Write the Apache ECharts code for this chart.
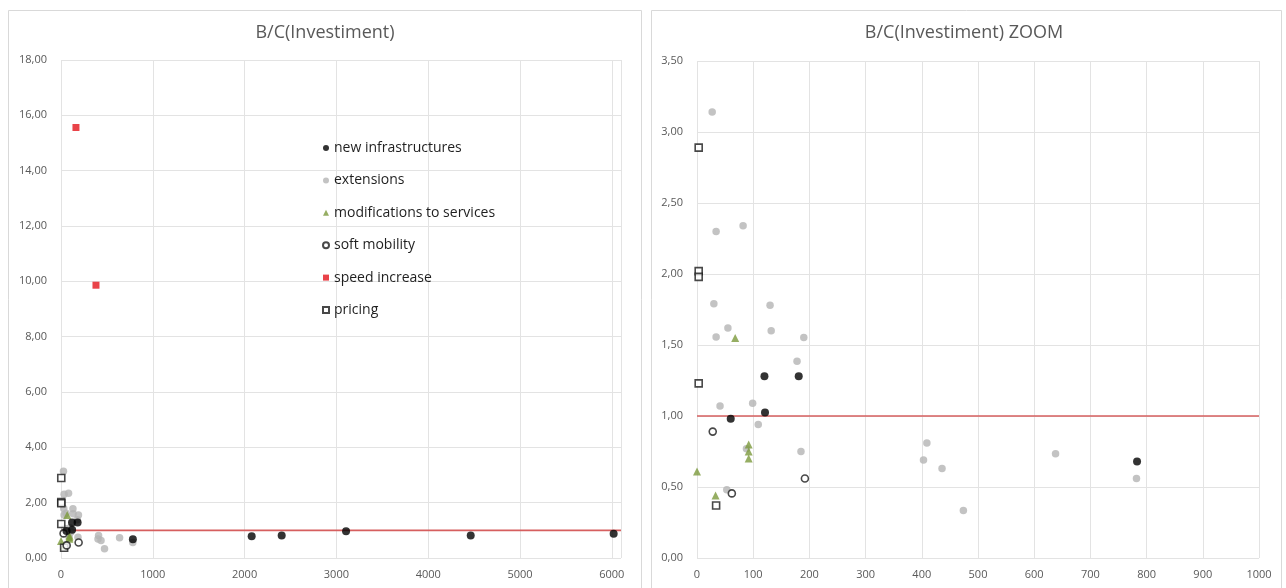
<!DOCTYPE html>
<html>
<head>
<meta charset="utf-8">
<script src="https://cdn.jsdelivr.net/npm/echarts@6/dist/echarts.min.js"></script>
<style>
  html, body { margin: 0; padding: 0; background: #ffffff; }
  #chart { width: 1286px; height: 588px; }
</style>
</head>
<body>
<div id="chart"></div>
<script>
// Investment (x) vs benefit/cost ratio (y), one list per project type
const newInfrastructures = [[60, 0.98], [120, 1.28], [121, 1.025], [181, 1.28], [783, 0.68],
  [2077, 0.79], [2404, 0.81], [3105, 0.97], [4463, 0.81], [6020, 0.88]];
const extensions = [[27, 3.14], [34, 2.30], [82, 2.34], [30, 1.79], [130, 1.78], [55, 1.62],
  [34, 1.556], [132, 1.60], [190, 1.553], [178, 1.385], [41, 1.07], [99, 1.09], [109, 0.94],
  [185, 0.75], [88, 0.77], [53, 0.48], [409, 0.81], [403, 0.69], [436, 0.63], [474, 0.335],
  [638, 0.735], [782, 0.56]];
const modificationsToServices = [[68, 1.55], [0, 0.61], [33, 0.44], [92, 0.80], [92, 0.75], [92, 0.70]];
const softMobility = [[28, 0.89], [62, 0.455], [192, 0.56]];
const speedIncrease = [[163, 15.56], [381, 9.86]];
const pricing = [[3, 2.89], [3, 2.02], [3, 1.98], [3, 1.23], [34, 0.37]];
const threshold = 1.0;

const seriesNames = ['new infrastructures', 'extensions', 'modifications to services',
  'soft mobility', 'speed increase', 'pricing'];

const titleLeft = 'B/C(Investiment)';
const titleRight = 'B/C(Investiment) ZOOM';

const leftY = { min: 0, max: 18, interval: 2 };
const leftX = { min: 0, max: 6100, interval: 1000 };
const rightY = { min: 0, max: 3.5, interval: 0.5 };
const rightX = { min: 0, max: 1000, interval: 100 };

const FONT = '"Open Sans", "Liberation Sans", sans-serif';
const LABEL = '#595959';
const GRIDLINE = '#e3e3e3';

const styles = {
  'new infrastructures': { symbol: 'circle', symbolSize: 8, itemStyle: { color: '#000000' } },
  'extensions': { symbol: 'circle', symbolSize: 7.5, itemStyle: { color: '#b4b4b4' } },
  'modifications to services': { symbol: 'triangle', symbolSize: 8, itemStyle: { color: '#7c9a3c' } },
  'soft mobility': { symbol: 'circle', symbolSize: 7, itemStyle: { color: '#ffffff', borderColor: '#1a1a1a', borderWidth: 1.6 } },
  'speed increase': { symbol: 'rect', symbolSize: 7, itemStyle: { color: '#e3141b' } },
  'pricing': { symbol: 'rect', symbolSize: 7, itemStyle: { color: '#ffffff', borderColor: '#1a1a1a', borderWidth: 1.6 } }
};
const dataByName = {
  'new infrastructures': newInfrastructures,
  'extensions': extensions,
  'modifications to services': modificationsToServices,
  'soft mobility': softMobility,
  'speed increase': speedIncrease,
  'pricing': pricing
};
// draw order: grey dots underneath, black dots on top
const drawOrder = ['extensions', 'modifications to services', 'speed increase', 'pricing', 'soft mobility', 'new infrastructures'];

const fmtY = v => v.toFixed(2).replace('.', ',');

function valueAxis(idx, range, isX, maxLabelHidden) {
  return {
    type: 'value', gridIndex: idx,
    min: range.min, max: range.max, interval: range.interval,
    axisLine: { show: false }, axisTick: { show: false },
    splitLine: { show: true, lineStyle: { color: GRIDLINE, width: 1 } },
    axisLabel: {
      color: LABEL, fontFamily: FONT, fontSize: 11,
      margin: isX ? 11 : 14,
      showMaxLabel: !maxLabelHidden,
      formatter: isX ? (v => (v % range.interval === 0 ? String(v) : '')) : fmtY
    }
  };
}

const series = [];
[0, 1].forEach(g => {
  series.push({
    type: 'line', xAxisIndex: g, yAxisIndex: g, name: 'threshold',
    data: [[0, threshold], [g === 0 ? leftX.max : rightX.max, threshold]],
    showSymbol: false, silent: true, z: 1,
    lineStyle: { color: '#d65f5f', width: 1.6 }
  });
  drawOrder.forEach(name => {
    const s = styles[name];
    series.push({
      type: 'scatter', name, xAxisIndex: g, yAxisIndex: g,
      data: dataByName[name], symbol: s.symbol, symbolSize: s.symbolSize,
      itemStyle: s.itemStyle, z: 3, clip: true
    });
  });
});

const chart = echarts.init(document.getElementById('chart'), null, { renderer: 'canvas' });
chart.setOption({
  animation: false,
  backgroundColor: '#ffffff',
  grid: [
    { left: 61, right: 665, top: 60, bottom: 30 },
    { left: 697, right: 27, top: 61, bottom: 30 }
  ],
  xAxis: [valueAxis(0, leftX, true, true), valueAxis(1, rightX, true, false)],
  yAxis: [valueAxis(0, leftY, false, false), valueAxis(1, rightY, false, false)],
  legend: {
    data: seriesNames, orient: 'vertical', left: 317, top: 135,
    itemWidth: 6, itemHeight: 6, itemGap: 16.4,
    textStyle: { fontFamily: FONT, fontSize: 14, color: '#1f1f1f', lineHeight: 16 }
  },
  graphic: [
    { type: 'rect', shape: { x: 8.5, y: 10.5, width: 633, height: 600 }, style: { fill: 'none', stroke: '#d9d9d9', lineWidth: 1 }, silent: true },
    { type: 'rect', shape: { x: 651.5, y: 10.5, width: 630, height: 600 }, style: { fill: 'none', stroke: '#d9d9d9', lineWidth: 1 }, silent: true },
    { type: 'text', x: 325, y: 33, style: { text: titleLeft, fill: '#595959', font: '18px ' + FONT, textAlign: 'center', textVerticalAlign: 'middle' }, silent: true },
    { type: 'text', x: 964, y: 33, style: { text: titleRight, fill: '#595959', font: '18px ' + FONT, textAlign: 'center', textVerticalAlign: 'middle' }, silent: true }
  ],
  series
});
</script>
</body>
</html>
